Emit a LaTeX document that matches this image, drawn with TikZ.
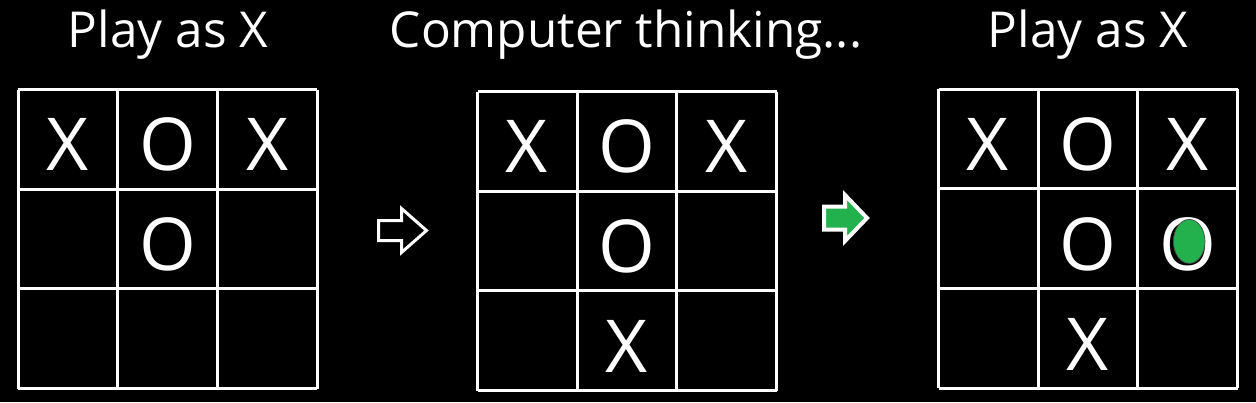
\documentclass[tikz,border=0pt]{standalone}
\usepackage{fontspec}
\setmainfont{Open Sans}
\definecolor{mgreen}{HTML}{22B14C}
\begin{document}
\begin{tikzpicture}[x=1pt,y=-1pt,
  title/.style={text=white,font=\fontsize{49.5}{54}\selectfont,anchor=base,inner sep=0pt},
  cellmark/.style={text=white,font=\fontsize{73}{80}\selectfont,anchor=base,inner sep=0pt},
  gridline/.style={white,line width=3pt}]
\fill[black] (0,0) rectangle (1256,402);
\useasboundingbox (0,0) rectangle (1256,402);
% grids
\foreach \gx/\gy/\gn in {18/89.5/a,477.5/91.5/b,938.5/89/c}{
  \foreach \i in {0,1,2,3}{
    \draw[gridline] (\gx+\i*99.67,\gy) -- (\gx+\i*99.67,\gy+299);
    \draw[gridline] (\gx,\gy+\i*99.67) -- (\gx+299,\gy+\i*99.67);
  }
}
% titles
\node[title] (t1) at (168,47) {Play as X};
\node[title] (t2) at (626,47) {Computer thinking...};
\node[title] (t3) at (1088,47) {Play as X};
% grid 1
\node[cellmark] (a11) at (68,170) {X};
\node[cellmark] (a12) at (168,170) {O};
\node[cellmark] (a13) at (268,170) {X};
\node[cellmark] (a22) at (168,270) {O};
% grid 2
\node[cellmark] (b11) at (527,172) {X};
\node[cellmark] (b12) at (627,172) {O};
\node[cellmark] (b13) at (727,172) {X};
\node[cellmark] (b22) at (627,272) {O};
\node[cellmark] (b32) at (627,372) {X};
% grid 3
\node[cellmark] (c11) at (988,170) {X};
\node[cellmark] (c12) at (1088,170) {O};
\node[cellmark] (c13) at (1188,170) {X};
\node[cellmark] (c22) at (1088,270) {O};
\node[cellmark] (c23) at (1188,270) {O};
\fill[mgreen,draw=black!70,line width=0.7pt] (c23.base) ++(1.2,-28.6) ellipse [x radius=15.8,y radius=22];
\node[cellmark] (c32) at (1088,370) {X};
% arrows
\draw[white,line width=3pt,line join=miter,fill=black]
  (378.5,220.5) -- (401.5,220.5) -- (401.5,208.5) -- (426.5,230.5) -- (401.5,252.5) -- (401.5,240.5) -- (378.5,240.5) -- cycle;
\draw[white,line width=4pt,line join=miter,fill=mgreen]
  (824,206.5) -- (845,206.5) -- (845,195) -- (867,218) -- (845,241) -- (845,229.5) -- (824,229.5) -- cycle;
\end{tikzpicture}
\end{document}
